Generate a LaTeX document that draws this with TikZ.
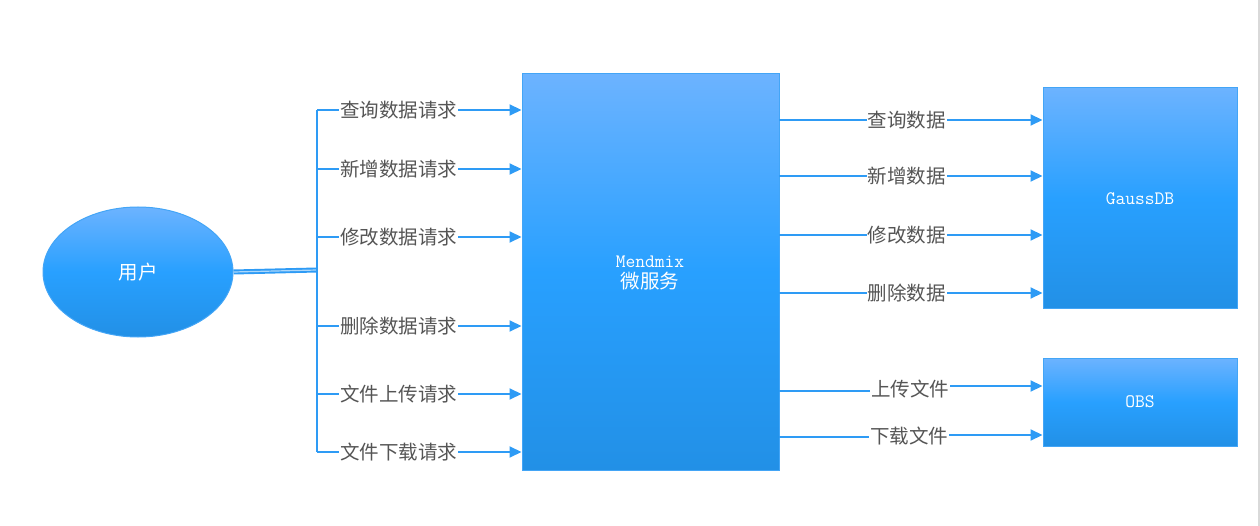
\documentclass[tikz,border=0pt]{standalone}
\usepackage{fontspec}
\usepackage{tikz}
\usetikzlibrary{positioning,arrows.meta,shapes.geometric}
\newfontfamily\cjk{Noto Sans CJK SC}
\definecolor{flowblue}{HTML}{2E9BF5}
\definecolor{boxtop}{HTML}{6CB3FF}
\definecolor{boxmid}{HTML}{28A0FF}
\definecolor{boxbot}{HTML}{2290E6}
\definecolor{lblgray}{HTML}{555555}

\begin{document}
\begin{tikzpicture}[x=1pt,y=-1pt,
    blockbox/.style={draw=flowblue!90,line width=1pt,top color=boxtop,bottom color=boxbot,middle color=boxmid,
        text=white,inner sep=0pt,align=center},
    flow/.style={draw=flowblue,line width=2pt,-{Triangle[length=12pt,width=11pt]}},
    lbl/.style={fill=white,text=lblgray,inner sep=1pt,font=\cjk\fontsize{19.5}{22}\selectfont}]
    \useasboundingbox (0,0) rectangle (1260,526);
    \draw[gray!30,line width=2pt] (1258.5,0) -- (1258.5,526);

    % user and service
    \node[blockbox,ellipse,minimum width=190pt,minimum height=130pt,font=\cjk\fontsize{19.5}{22}\selectfont] (usr) at (138,272) {用户};
    \node[blockbox,minimum width=257pt,minimum height=396pt] (svc) at (650.5,272) {};
    \node[text=white,inner sep=0pt,font=\ttfamily\fontsize{19}{22}\selectfont] (svct) at (650,262) {Mendmix};
    \node[text=white,inner sep=0pt,font=\cjk\fontsize{19.5}{22}\selectfont,below=4pt of svct] (svcz) {微服务};

    % stores
    \node[blockbox,minimum width=194pt,minimum height=221pt,font=\ttfamily\fontsize{19}{22}\selectfont] (gdb) at (1140,198.5) {GaussDB};
    \node[blockbox,minimum width=194pt,minimum height=88pt,font=\ttfamily\fontsize{19}{22}\selectfont] (obs) at (1140,402) {OBS};

    % fan out from user
    \coordinate (tr) at (317,270);
    \draw[flowblue,line width=5pt] (usr.east) -- (tr);
    \draw[white!60!flowblue,line width=1.2pt] (usr.east) -- (tr);
    \draw[flowblue,line width=2pt] (317,110) -- (317,452);

    \foreach \yy/\txt in {110/查询数据请求,169/新增数据请求,237/修改数据请求,326/删除数据请求,394/文件上传请求,452/文件下载请求}{
        \coordinate (b\yy) at (317,\yy);
        \draw[flow] (b\yy) -- (b\yy -| svc.west) node[lbl,pos=.4] {\txt};
    }

    % service to GaussDB
    \foreach \yy/\txt in {120/查询数据,176/新增数据,235/修改数据,293/删除数据}{
        \coordinate (g\yy) at (779,\yy);
        \draw[flow] (g\yy) -- (g\yy -| gdb.west) node[lbl,pos=.485] {\txt};
    }

    % service to OBS
    \coordinate (o1) at (779,391);
    \coordinate (o2) at (779,437);
    \coordinate (e1) at (1000,386);
    \coordinate (e2) at (1000,435);
    \draw[flow] (o1) -- (910,391) -- (910,386) -- (e1 -| obs.west);
    \draw[flow] (o2) -- (910,437) -- (910,435) -- (e2 -| obs.west);
    \node[lbl] (up) at (910,389) {上传文件};
    \node[lbl] (dn) at (909,436) {下载文件};
\end{tikzpicture}
\end{document}
